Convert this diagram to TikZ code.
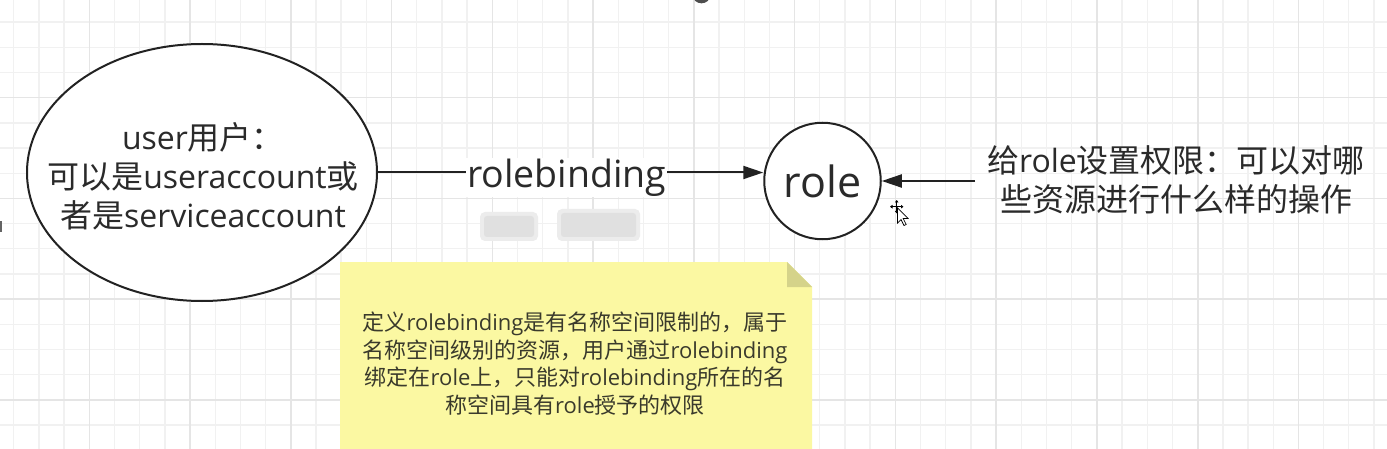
\documentclass[tikz,border=0pt]{standalone}
\usepackage{fontspec}
\setmainfont{Open Sans}
\newfontfamily\cjk{Noto Sans CJK SC}
\usetikzlibrary{shapes.geometric,arrows.meta}
\definecolor{ink}{HTML}{222222}
\definecolor{txt}{HTML}{2A2A2A}
\definecolor{gridminor}{HTML}{F1F1F1}
\definecolor{gridmajor}{HTML}{E5E5E5}
\definecolor{notefill}{HTML}{FBF8A2}
\definecolor{notefold}{HTML}{D5D38A}
\definecolor{notetxt}{HTML}{3A3A2C}
\definecolor{blurgray}{HTML}{E0E0E0}
\definecolor{blurlight}{HTML}{ECECEC}
\begin{document}
\begin{tikzpicture}[x=1pt,y=-1pt,
  minorline/.style={draw=gridminor,line width=1.4pt},
  majorline/.style={draw=gridmajor,line width=1.6pt},
  shapeline/.style={draw=ink,line width=2pt},
  arr/.style={draw=ink,line width=2pt,-{Triangle[length=20pt,width=13pt]}},
  bigtext/.style={text=txt,font=\fontsize{32}{39}\selectfont,align=center,inner sep=0pt},
  notetext/.style={text=notetxt,font=\fontsize{22}{27.7}\selectfont,align=center,inner sep=0pt},
  blob/.style={fill=blurgray,rounded corners=3pt},
  bloblight/.style={fill=blurlight,rounded corners=5pt}]
\clip (0,0) rectangle (1387,449);
\fill[white] (0,0) rectangle (1387,449);
% grid
\foreach \i in {0,...,54} \draw[minorline] ({13.7+\i*25.19},0) -- ({13.7+\i*25.19},449);
\foreach \i in {0,...,17} \draw[minorline] (0,{-3.1+\i*25.19}) -- (1387,{-3.1+\i*25.19});
\foreach \i in {0,...,12} \draw[majorline] ({89.3+\i*100.77},0) -- ({89.3+\i*100.77},449);
\foreach \i in {0,...,4} \draw[majorline] (0,{-3.07+\i*100.77}) -- (1387,{-3.07+\i*100.77});
% stray marks at the edges
\fill[ink!80] (701.5,-4) ellipse (8.5 and 7.3);
\fill[ink!70] (0,220.7) rectangle (2,231.7);
% note
\fill[notefill] (340,262) -- (787,262) -- (812,287) -- (812,460) -- (340,460) -- cycle;
\fill[notefold] (787,262) -- (812,287) -- (787,287) -- cycle;
\node[notetext] (note) at (575,363.5) {{\cjk 定义}rolebinding{\cjk 是有名称空间限制的，属于}\\{\cjk 名称空间级别的资源，用户通过}rolebinding\\{\cjk 绑定在}role{\cjk 上，只能对}rolebinding{\cjk 所在的名}\\{\cjk 称空间具有}role{\cjk 授予的权限}};
% user ellipse
\node[ellipse,shapeline,fill=white,minimum width=350pt,minimum height=257pt,inner sep=0pt] (user) at (202,172.5) {};
\node[bigtext] (usertext) at (203,176) {user{\cjk 用户：}\\{\cjk 可以是}useraccount{\cjk 或}\\{\cjk 者是}serviceaccount};
% role circle
\node[circle,shapeline,fill=white,minimum size=116.5pt,inner sep=0pt,text=txt,font=\fontsize{43}{43}\selectfont] (role) at (822.5,181) {role};
% permissions text
\node[bigtext] (perm) at (1176,180) {{\cjk 给}role{\cjk 设置权限：可以对哪}\\{\cjk 些资源进行什么样的操作}};
\coordinate (permsrc) at (975,181);
% connectors
\draw[arr] (user.east) -- (user.east -| role.west) node[pos=0.49,fill=white,inner sep=1pt,yshift=-5pt,text=txt,font=\fontsize{37.5}{37.5}\selectfont] (rb) {rolebinding};
\draw[arr] (permsrc) -- (role.east);
% blurred area under the label
\fill[bloblight] (480,212) rectangle (538,241);
\fill[bloblight] (557,209) rectangle (640,241);
\fill[blob] (484,216) rectangle (534,237);
\fill[blob] (561,213) rectangle (636,237);
% mouse cursor
\draw[black,line width=0.8pt,{Triangle[length=2.5pt,width=3.5pt]}-{Triangle[length=2.5pt,width=3.5pt]}] (890,206.7) -- (903.5,206.7);
\draw[black,line width=0.8pt,{Triangle[length=2.5pt,width=3.5pt]}-{Triangle[length=2.5pt,width=3.5pt]}] (896.7,200) -- (896.7,213.5);
\filldraw[fill=white,draw=black,line width=0.7pt] (897.5,208) -- (897.5,223) -- (901,219.5) -- (904,225.5) -- (906.2,224.5) -- (903.2,218.5) -- (908,218.5) -- cycle;
\end{tikzpicture}
\end{document}
